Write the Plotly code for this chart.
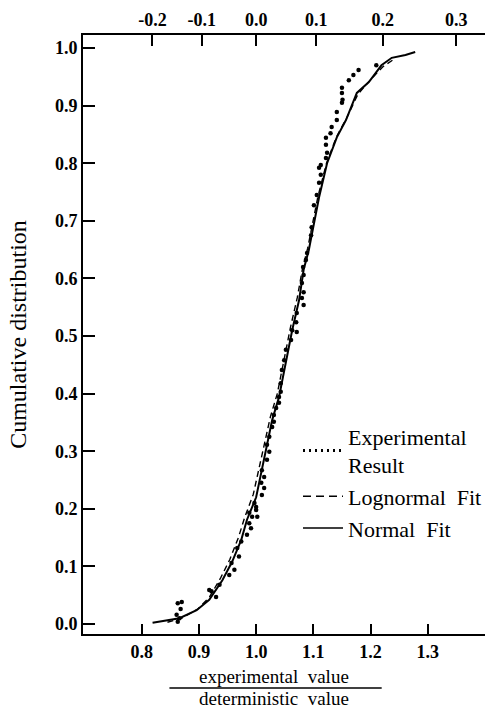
import numpy as np
import plotly.graph_objects as go

# ---- data ----
exp_x = [0.863, 0.868, 0.861, 0.863, 0.866, 0.870, 0.918, 0.922, 0.930, 0.936,
         0.953, 0.962, 0.957, 0.970, 0.967, 0.974, 0.984, 0.991, 0.988, 0.993,
         0.988, 1.000, 0.997, 1.002, 1.000, 1.010, 1.014, 1.009, 1.014, 1.010,
         1.019, 1.023, 1.019, 1.023, 1.028, 1.031, 1.031, 1.035, 1.040, 1.040,
         1.043, 1.043, 1.045, 1.049, 1.052, 1.061, 1.063, 1.071, 1.070, 1.071,
         1.083, 1.080, 1.083, 1.080, 1.083, 1.082, 1.087, 1.089, 1.096, 1.097,
         1.101, 1.106, 1.110, 1.113, 1.110, 1.113, 1.122, 1.124, 1.122, 1.122,
         1.130, 1.132, 1.141, 1.141, 1.150, 1.151, 1.150, 1.150, 1.162, 1.170,
         1.179, 1.210]
exp_y = [0.004, 0.026, 0.016, 0.036, 0.010, 0.038, 0.059, 0.057, 0.047, 0.068,
         0.085, 0.094, 0.106, 0.117, 0.132, 0.143, 0.155, 0.166, 0.175, 0.186,
         0.193, 0.198, 0.210, 0.186, 0.203, 0.224, 0.236, 0.245, 0.255, 0.267,
         0.285, 0.299, 0.311, 0.325, 0.342, 0.351, 0.363, 0.375, 0.384, 0.394,
         0.403, 0.418, 0.441, 0.458, 0.476, 0.493, 0.510, 0.507, 0.524, 0.540,
         0.554, 0.566, 0.576, 0.592, 0.606, 0.620, 0.632, 0.644, 0.675, 0.689,
         0.727, 0.745, 0.766, 0.780, 0.792, 0.797, 0.809, 0.818, 0.832, 0.844,
         0.852, 0.863, 0.875, 0.889, 0.905, 0.910, 0.922, 0.931, 0.944, 0.953,
         0.962, 0.970]

lognormal_x = [0.845, 0.870, 0.898, 0.918, 0.938, 0.954, 0.969, 0.980, 0.995, 1.005,
               1.015, 1.025, 1.037, 1.049, 1.060, 1.072, 1.081, 1.090, 1.108, 1.123,
               1.140, 1.158, 1.178, 1.200, 1.222, 1.240]
lognormal_y = [0.003, 0.010, 0.026, 0.046, 0.080, 0.112, 0.150, 0.185, 0.225, 0.270,
               0.318, 0.360, 0.400, 0.462, 0.515, 0.567, 0.617, 0.652, 0.742, 0.800,
               0.845, 0.878, 0.920, 0.945, 0.968, 0.980]

normal_x = [0.819, 0.866, 0.896, 0.918, 0.941, 0.958, 0.974, 0.984, 1.000, 1.010,
            1.019, 1.028, 1.040, 1.052, 1.063, 1.075, 1.083, 1.092, 1.110, 1.124,
            1.141, 1.157, 1.176, 1.197, 1.219, 1.237, 1.261, 1.278]
normal_y = [0.002, 0.010, 0.024, 0.042, 0.076, 0.108, 0.146, 0.181, 0.220, 0.267,
            0.314, 0.354, 0.394, 0.458, 0.510, 0.562, 0.615, 0.649, 0.741, 0.800,
            0.845, 0.875, 0.922, 0.941, 0.970, 0.983, 0.988, 0.993]

bottom_ticks = [0.8, 0.9, 1.0, 1.1, 1.2, 1.3]
top_ticks = [-0.2, -0.1, 0.0, 0.1, 0.2, 0.3]          # ln(ratio)
y_ticks = [0.0, 0.1, 0.2, 0.3, 0.4, 0.5, 0.6, 0.7, 0.8, 0.9, 1.0]

X_RANGE = [0.6974, 1.4]
Y_RANGE = [-0.0174, 1.0226]

SERIF = "Liberation Serif"

fig = go.Figure()

fig.add_trace(go.Scatter(x=exp_x, y=exp_y, mode="markers",
                         marker=dict(color="black", size=4.5),
                         showlegend=False, hoverinfo="x+y"))
fig.add_trace(go.Scatter(x=lognormal_x, y=lognormal_y, mode="lines",
                         line=dict(color="black", width=1.4, dash="6px,4px"),
                         showlegend=False))
fig.add_trace(go.Scatter(x=normal_x, y=normal_y, mode="lines",
                         line=dict(color="black", width=2),
                         showlegend=False))

# legend entries
fig.add_trace(go.Scatter(x=[None], y=[None], mode="lines",
                         name="Experimental<br>Result",
                         line=dict(color="black", width=3, dash="2px,4px")))
fig.add_trace(go.Scatter(x=[None], y=[None], mode="lines",
                         name="Lognormal  Fit",
                         line=dict(color="black", width=1.5, dash="8px,5px")))
fig.add_trace(go.Scatter(x=[None], y=[None], mode="lines",
                         name="Normal  Fit",
                         line=dict(color="black", width=1.5)))

# top axis holder
fig.add_trace(go.Scatter(x=[None], y=[None], xaxis="x2", showlegend=False,
                         hoverinfo="skip"))

tickfont = dict(family=SERIF, size=18, color="black", weight="bold")

fig.update_layout(
    width=487, height=709,
    margin=dict(l=83, r=0, t=35, b=75),
    paper_bgcolor="white", plot_bgcolor="white",
    font=dict(family=SERIF, color="black"),
    xaxis=dict(range=X_RANGE, tickvals=bottom_ticks,
               ticktext=[f"{v:.1f}" for v in bottom_ticks],
               ticks="inside", ticklen=10, tickwidth=2, tickcolor="black",
               showline=True, linecolor="black", linewidth=2,
               showgrid=False, zeroline=False, tickfont=tickfont),
    xaxis2=dict(range=X_RANGE, overlaying="x", side="top", anchor="y",
                tickvals=list(np.exp(top_ticks)),
                ticktext=[f"{v:.1f}" for v in top_ticks],
                ticks="inside", ticklen=11, tickwidth=2, tickcolor="black",
                showline=True, linecolor="black", linewidth=2,
                showgrid=False, zeroline=False, tickfont=tickfont),
    yaxis=dict(range=Y_RANGE, tickvals=y_ticks,
               ticktext=[f"{v:.1f}" for v in y_ticks],
               ticks="inside", ticklen=12, tickwidth=2, tickcolor="black",
               showline=True, linecolor="black", linewidth=2,
               showgrid=False, zeroline=False, tickfont=tickfont,
               title=dict(text="Cumulative distribution",
                          font=dict(family=SERIF, size=24, color="black"),
                          standoff=22)),
    legend=dict(x=0.535, y=0.365, xanchor="left", yanchor="top",
                bgcolor="rgba(0,0,0,0)",
                font=dict(family=SERIF, size=22, color="black"),
                itemwidth=40, tracegroupgap=0),
    showlegend=True,
)

# x-axis title as a fraction
fig.add_annotation(text="experimental  value", xref="paper", yref="paper",
                   x=0.475, y=-0.0715, xanchor="center", yanchor="middle",
                   showarrow=False, font=dict(family=SERIF, size=19, color="black"))
fig.add_annotation(text="deterministic  value", xref="paper", yref="paper",
                   x=0.475, y=-0.1085, xanchor="center", yanchor="middle",
                   showarrow=False, font=dict(family=SERIF, size=19, color="black"))
fig.add_shape(type="line", xref="paper", yref="paper",
              x0=0.215, x1=0.743, y0=-0.090, y1=-0.090,
              line=dict(color="black", width=1.5))

fig.write_html("out.html")
